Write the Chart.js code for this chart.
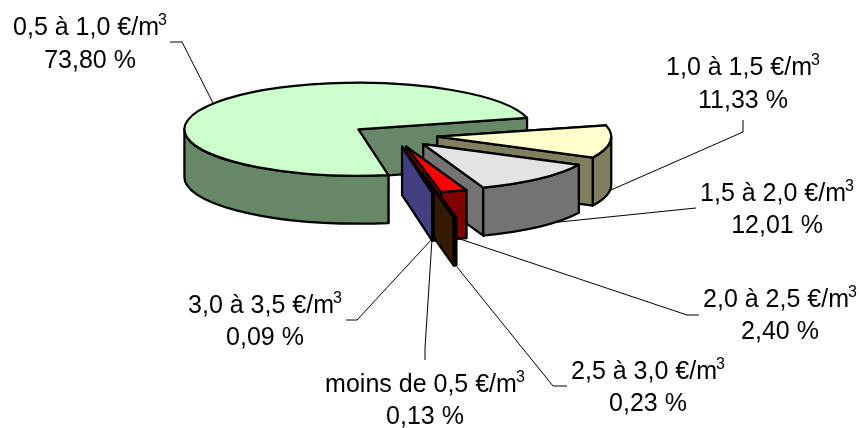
<!DOCTYPE html>
<html lang="fr">
<head>
<meta charset="utf-8">
<title>Répartition par prix</title>
<script src="https://cdn.jsdelivr.net/npm/chart.js@4/dist/chart.umd.min.js"></script>
<style>
  html, body { margin: 0; background: #fff; }
  canvas { display: block; }
</style>
</head>
<body>
<canvas id="pie" width="861" height="428"></canvas>
<script>
// Price bands, clockwise from the sliver next to the big slice
const categories = [
  'moins de 0,5 €/m',
  '0,5 à 1,0 €/m',
  '1,0 à 1,5 €/m',
  '1,5 à 2,0 €/m',
  '2,0 à 2,5 €/m',
  '2,5 à 3,0 €/m',
  '3,0 à 3,5 €/m'
];
const shares = [0.13, 73.80, 11.33, 12.01, 2.40, 0.23, 0.09];

const topColors = ['#8080FF', '#CCFFCC', '#FFFFCC', '#E3E3E3', '#FF0000', '#663300', '#FF0000'];
const wallColors = ['#434082', '#668866', '#808060', '#737373', '#800000', '#331A00', '#800000'];
const explode = [43, 43, 43, 43, 43, 139, 43];
const paintOrder = [1, 2, 3, 4, 6, 5, 0];

// Label block per slice: centre x, first and second baseline
const labelSpots = [
  [425, 392, 424],
  [90, 35, 68],
  [743, 75, 108],
  [777, 201, 233],
  [780, 307, 339],
  [648, 379, 411],
  [265, 313, 345]
];
// Leader lines per slice, from the label to the slice
const leaders = [
  [[425, 360], [425, 348], [432, 239]],
  [[170, 42], [182, 42], [213, 103]],
  [[743, 120], [743, 132], [611, 190]],
  [[696, 208], [530, 225]],
  [[699, 315], [687, 315], [457, 238]],
  [[567, 386], [553, 386], [457, 267]],
  [[346, 320], [357, 320], [432, 239]]
];

const SQUASH = 0.267;
const DEPTH = 48;

function drawSlice(ctx, arc, top, wall) {
  const mid = (arc.startAngle + arc.endAngle) / 2;
  const shift = arc.options.offset;
  const ax = arc.x + Math.cos(mid) * shift;
  const ay = arc.y + Math.sin(mid) * shift * SQUASH;
  const rx = arc.outerRadius;
  const ry = rx * SQUASH;

  // Side walls along the two radial edges
  ctx.fillStyle = wall;
  [arc.startAngle, arc.endAngle].forEach(angle => {
    const ex = ax + Math.cos(angle) * rx;
    const ey = ay + Math.sin(angle) * ry;
    ctx.beginPath();
    ctx.moveTo(ax, ay);
    ctx.lineTo(ex, ey);
    ctx.lineTo(ex, ey + DEPTH);
    ctx.lineTo(ax, ay + DEPTH);
    ctx.closePath();
    ctx.fill();
    ctx.stroke();
  });

  // Rim, only the part that faces the viewer
  [0, 2 * Math.PI].forEach(turn => {
    const lo = Math.max(arc.startAngle, turn);
    const hi = Math.min(arc.endAngle, turn + Math.PI);
    if (lo >= hi) return;
    ctx.beginPath();
    ctx.ellipse(ax, ay, rx, ry, 0, lo, hi);
    ctx.ellipse(ax, ay + DEPTH, rx, ry, 0, hi, lo, true);
    ctx.closePath();
    ctx.fill();
    ctx.stroke();
  });

  // Top face
  ctx.fillStyle = top;
  ctx.beginPath();
  ctx.moveTo(ax, ay);
  ctx.ellipse(ax, ay, rx, ry, 0, arc.startAngle, arc.endAngle);
  ctx.closePath();
  ctx.fill();
  ctx.stroke();
}

function drawLabel(ctx, index) {
  const [cx, y1, y2] = labelSpots[index];
  const pct = shares[index].toFixed(2).replace('.', ',') + ' %';
  ctx.fillStyle = '#000';
  ctx.textBaseline = 'alphabetic';
  ctx.textAlign = 'left';

  ctx.font = '25px "Liberation Sans"';
  const w = ctx.measureText(categories[index]).width;
  ctx.fillText(categories[index], cx - (w + 8) / 2, y1);
  ctx.fillText(pct, cx - ctx.measureText(pct).width / 2, y2);

  ctx.font = '16px "Liberation Sans"';
  ctx.fillText('3', cx - (w + 8) / 2 + w - 1, y1 - 10);
}

// Chart.js has no 3D pie: the arcs keep their computed angles and radius,
// the plugin only paints them tilted with a wall underneath.
const tiltedPie = {
  id: 'tiltedPie',
  beforeDatasetsDraw(chart) {
    const ctx = chart.ctx;
    const arcs = chart.getDatasetMeta(0).data;

    ctx.save();
    ctx.strokeStyle = '#000';
    ctx.lineWidth = 1;
    leaders.forEach(points => {
      ctx.beginPath();
      points.forEach(([x, y], i) => (i ? ctx.lineTo(x, y) : ctx.moveTo(x, y)));
      ctx.stroke();
    });

    ctx.lineWidth = 2.25;
    ctx.lineJoin = 'round';
    paintOrder.forEach(i => drawSlice(ctx, arcs[i], topColors[i], wallColors[i]));

    categories.forEach((name, i) => drawLabel(ctx, i));
    ctx.restore();
    return false;
  }
};

new Chart(document.getElementById('pie'), {
  type: 'pie',
  data: {
    labels: categories,
    datasets: [{
      data: shares,
      backgroundColor: topColors,
      offset: explode,
      radius: 174
    }]
  },
  options: {
    responsive: false,
    animation: false,
    rotation: 169.6,
    layout: { padding: { right: 72, bottom: 157 } },
    plugins: {
      legend: { display: false },
      tooltip: { enabled: false }
    }
  },
  plugins: [tiltedPie]
});
</script>
</body>
</html>
